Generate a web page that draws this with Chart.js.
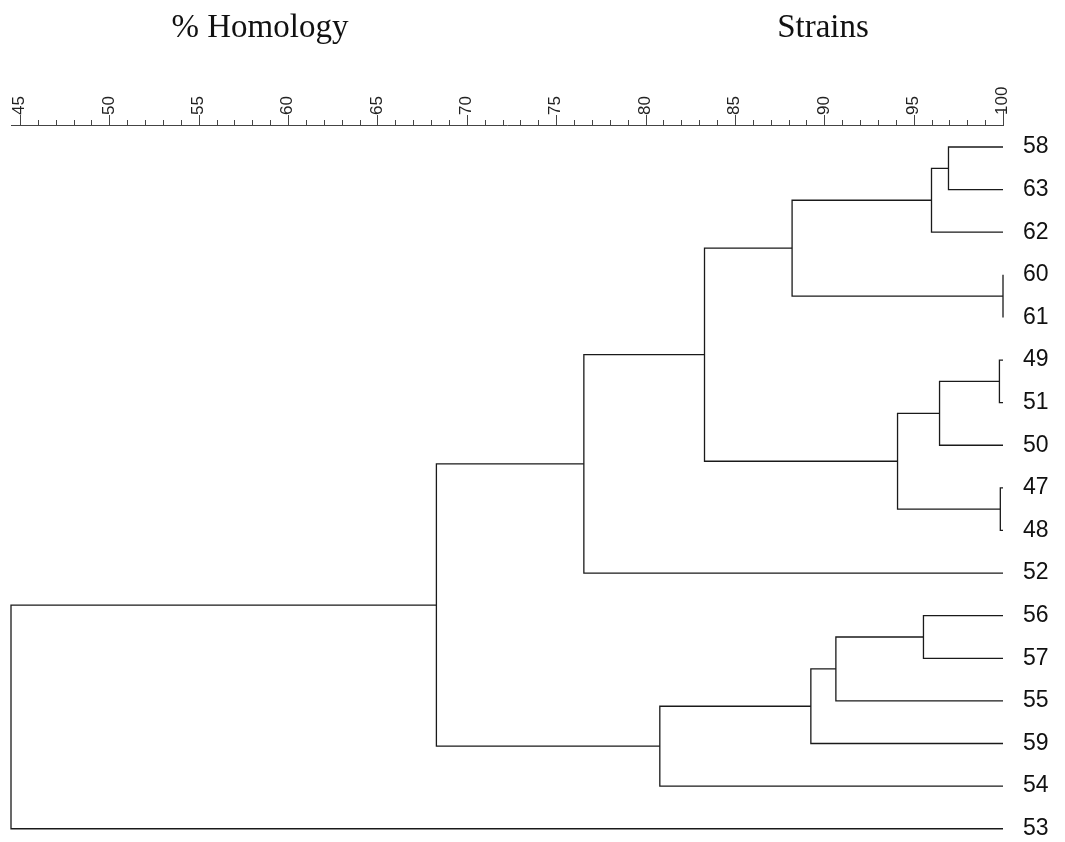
<!DOCTYPE html>
<html>
<head>
<meta charset="utf-8">
<script src="https://cdn.jsdelivr.net/npm/chart.js@4.4.0/dist/chart.umd.min.js"></script>
<style>
  html, body { margin: 0; padding: 0; background: #fff; }
</style>
</head>
<body>
<canvas id="chart" width="1065" height="842"></canvas>
<script>
// leaf order, top to bottom
const strains = ["58", "63", "62", "60", "61", "49", "51", "50", "47", "48", "52", "56", "57", "55", "59", "54", "53"];

// merges: [child A, child B, % homology]; numbers are leaf indices, "nK" is merge K
const merges = [
  [0, 1, 96.95],        // n0
  ["n0", 2, 96.0],      // n1
  [3, 4, 100],          // n2
  ["n1", "n2", 88.2],   // n3
  [5, 6, 99.8],         // n4
  ["n4", 7, 96.45],     // n5
  [8, 9, 99.85],        // n6
  ["n5", "n6", 94.1],   // n7
  ["n3", "n7", 83.3],   // n8
  ["n8", 10, 76.55],    // n9
  [11, 12, 95.55],      // n10
  ["n10", 13, 90.65],   // n11
  ["n11", 14, 89.25],   // n12
  ["n12", 15, 80.8],    // n13
  ["n9", "n13", 68.3],  // n14
  ["n14", 16, 44.5]     // n15
];

const tickValues = [45, 50, 55, 60, 65, 70, 75, 80, 85, 90, 95, 100];

// node position: leaves sit at 100 %, merges at the mean row of their children
const nodes = [];
function node(ref) {
  if (typeof ref === "number") return { x: 100, y: ref };
  return nodes[parseInt(ref.slice(1))];
}

const datasets = merges.map(m => {
  const a = node(m[0]);
  const b = node(m[1]);
  nodes.push({ x: m[2], y: (a.y + b.y) / 2 });
  return {
    data: [
      { x: a.x, y: a.y },
      { x: m[2], y: a.y },
      { x: m[2], y: b.y },
      { x: b.x, y: b.y }
    ],
    showLine: true,
    borderColor: "#1a1a1a",
    borderWidth: 1.3,
    pointRadius: 0,
    tension: 0,
    clip: false
  };
});

// minor / major ticks on the top axis and the two headings
const axisDecor = {
  id: "axisDecor",
  afterDraw(chart) {
    const ctx = chart.ctx;
    const xs = chart.scales.x;
    const top = chart.chartArea.top;
    ctx.save();
    ctx.strokeStyle = "#444";
    ctx.lineWidth = 1;
    const first = tickValues[0], last = tickValues[tickValues.length - 1];
    for (let v = first; v <= last; v++) {
      const len = v === last ? 16 : (v % 5 === 0 ? 10 : 5);
      const px = Math.round(xs.getPixelForValue(v)) + 0.5;
      ctx.beginPath();
      ctx.moveTo(px, top);
      ctx.lineTo(px, top - len);
      ctx.stroke();
    }
    ctx.fillStyle = "#111";
    ctx.font = '33px "Liberation Serif"';
    ctx.textAlign = "center";
    ctx.textBaseline = "alphabetic";
    ctx.fillText("% Homology", 260, 37);
    ctx.fillText("Strains", 823, 37);
    ctx.restore();
  }
};

new Chart(document.getElementById("chart"), {
  type: "scatter",
  data: { datasets: datasets },
  options: {
    responsive: false,
    animation: false,
    layout: { padding: { left: 11, right: 0, top: 0, bottom: 9 } },
    plugins: {
      legend: { display: false },
      tooltip: { enabled: false },
      title: { display: false }
    },
    scales: {
      x: {
        type: "linear",
        position: "top",
        min: 44.5,
        max: 100,
        afterBuildTicks: s => { s.ticks = tickValues.map(v => ({ value: v })); },
        afterFit: s => {
          s.height = 125;
          s.paddingLeft = 0;
          s.paddingRight = 0;
        },
        grid: { display: false, drawTicks: false },
        border: { display: true, color: "#444", width: 1 },
        ticks: {
          autoSkip: false,
          minRotation: 90,
          maxRotation: 90,
          padding: 10,
          labelOffset: 20,
          color: "#222",
          font: { family: "Liberation Sans", size: 17 },
          callback: v => String(v)
        }
      },
      y: {
        type: "linear",
        position: "right",
        reverse: true,
        min: -0.516,
        max: 16.1,
        afterBuildTicks: s => { s.ticks = strains.map((_, i) => ({ value: i })); },
        afterFit: s => {
          s.width = 62;
          s.paddingTop = 0;
          s.paddingBottom = 0;
        },
        grid: { display: false, drawTicks: false },
        border: { display: false },
        ticks: {
          autoSkip: false,
          padding: 20,
          color: "#111",
          font: { family: "Liberation Sans", size: 23 },
          callback: v => strains[v]
        }
      }
    }
  },
  plugins: [axisDecor]
});
</script>
</body>
</html>
